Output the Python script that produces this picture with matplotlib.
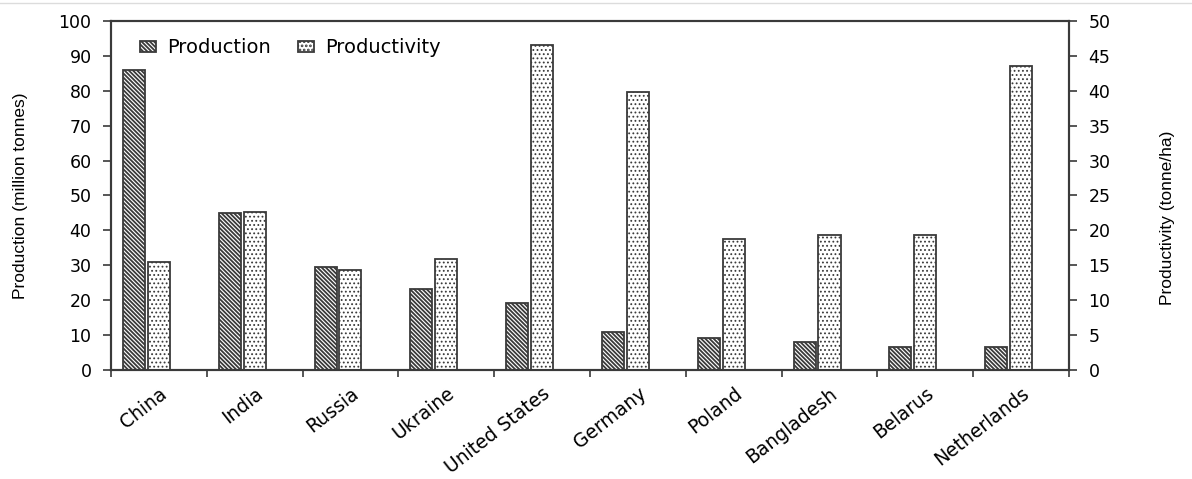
import numpy as np
import matplotlib
matplotlib.use("Agg")
import matplotlib.pyplot as plt
from matplotlib.lines import Line2D

countries = ["China", "India", "Russia", "Ukraine", "United States",
             "Germany", "Poland", "Bangladesh", "Belarus", "Netherlands"]
production = [86, 45, 29.4, 23.2, 19.1, 10.8, 9.1, 8.0, 6.7, 6.7]      # million tonnes
productivity = [15.4, 22.7, 14.3, 15.9, 46.6, 39.8, 18.8, 19.4, 19.3, 43.6]  # tonne/ha

plt.rcParams['font.family'] = ['DejaVu Sans']
plt.rcParams['hatch.linewidth'] = 1.3
plt.rcParams['hatch.color'] = '#111111'

fig = plt.figure(figsize=(11.92, 4.79), dpi=100)
ax = fig.add_axes([0.0931, 0.2276, 0.8037, 0.7286])
ax2 = ax.twinx()

x = np.arange(len(countries))
w = 0.23
edge = '#3a3a3a'
b1 = ax.bar(x - 0.26, production, width=w, color='white', edgecolor=edge,
            linewidth=1.3, hatch='\\' * 8, label='Production')
b2 = ax2.bar(x, productivity, width=w, color='white', edgecolor=edge,
             linewidth=1.3, hatch='....', label='Productivity')
# lighter dots for productivity
for p in b2:
    if hasattr(p, 'set_hatch_linewidth'):
        p.set_hatch_linewidth(0.8)
    p.set_hatchcolor('#333333') if hasattr(p, 'set_hatchcolor') else None

ax.set_xlim(-0.5, len(countries) - 0.5)
ax.set_ylim(0, 100)
ax2.set_ylim(0, 50)
ax.set_yticks(np.arange(0, 101, 10))
ax2.set_yticks(np.arange(0, 51, 5))

# category labels at centers, tick marks at boundaries
ax.set_xticks(x)
ax.set_xticklabels(countries, rotation=38, ha='right', rotation_mode='anchor', fontsize=13.5)
ax.tick_params(axis='x', length=0, pad=10)
ax.set_xticks(np.arange(-0.5, len(countries)), minor=True)
ax.tick_params(axis='x', which='minor', length=5, width=1.2, color=edge, direction='out')

ax.tick_params(axis='y', labelsize=12.5, length=6, width=1.2, color=edge, direction='out', pad=8)
ax2.tick_params(axis='y', labelsize=12.5, length=6, width=1.2, color=edge, direction='out', pad=8)

for a in (ax, ax2):
    for s in a.spines.values():
        s.set_color(edge)
        s.set_linewidth(1.5)

ax.set_ylabel('Production (million tonnes)', fontsize=12.5, family='Liberation Sans')
ax.yaxis.set_label_coords(-0.087, 0.5)
ax2.set_ylabel('Productivity (tonne/ha)', fontsize=12.5, family='Liberation Sans')
ax2.yaxis.set_label_coords(1.095, 0.435)

ax.legend([b1, b2], ['Production', 'Productivity'], loc='upper left',
          bbox_to_anchor=(0.012, 1.0), ncol=2, frameon=False, fontsize=14,
          handlelength=0.8, handleheight=0.55, handletextpad=0.6, columnspacing=1.4)

# thin grey line at the very top of the picture
fig.add_artist(Line2D([0, 1], [1 - 3 / 479, 1 - 3 / 479], transform=fig.transFigure,
                      color='#dcdcdc', linewidth=1))

fig.savefig('out.png', dpi=100)
